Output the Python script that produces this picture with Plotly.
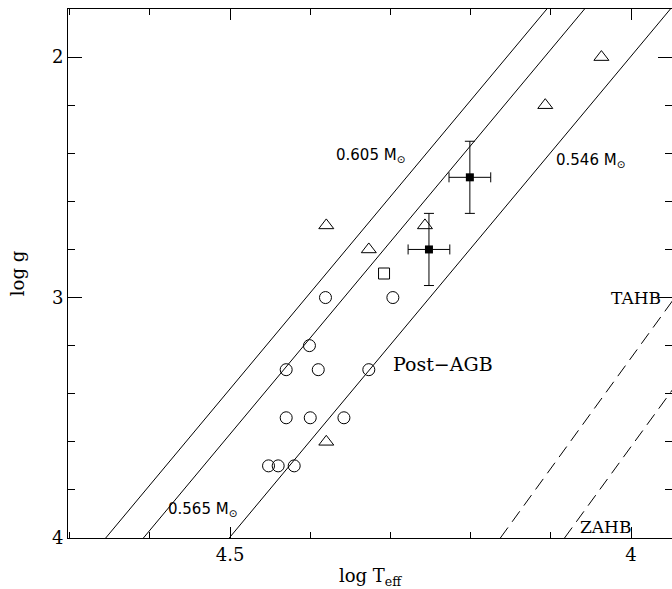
import plotly.graph_objects as go

# ---- data ----
circ_logT = [4.381, 4.297, 4.401, 4.430, 4.390, 4.327, 4.430, 4.400, 4.358, 4.452, 4.440, 4.420]
circ_logg = [3.0, 3.0, 3.2, 3.3, 3.3, 3.3, 3.5, 3.5, 3.5, 3.7, 3.7, 3.7]

tri_logT = [4.037, 4.107, 4.257, 4.327, 4.380, 4.380]
tri_logg = [2.0, 2.2, 2.7, 2.8, 2.7, 3.6]

sq_logT = [4.308]
sq_logg = [2.9]

fsq_logT = [4.201, 4.252]
fsq_logg = [2.5, 2.8]
fsq_errT = [0.026, 0.026]
fsq_errg = [0.15, 0.15]

track_0605_logT = [4.655, 4.105]
track_0605_logg = [4.0, 1.8]
track_0565_logT = [4.608, 4.058]
track_0565_logg = [4.0, 1.8]
track_0546_logT = [4.501, 3.951]
track_0546_logg = [4.0, 1.8]

tahb_logT = [4.163, 3.94]
tahb_logg = [4.0, 2.975]
zahb_logT = [4.083, 3.94]
zahb_logg = [4.0, 3.345]

x_ticks = [4.5, 4.0]
x_ticktext = ["4.5", "4"]
y_ticks = [2, 3, 4]
y_ticktext = ["2", "3", "4"]

SERIF = "DejaVu Serif"
SANS = "DejaVu Sans"

fig = go.Figure()

for xs, ys in [(track_0605_logT, track_0605_logg),
               (track_0565_logT, track_0565_logg),
               (track_0546_logT, track_0546_logg)]:
    fig.add_trace(go.Scatter(x=xs, y=ys, mode="lines",
                             line=dict(color="black", width=1), showlegend=False))

for xs, ys in [(tahb_logT, tahb_logg), (zahb_logT, zahb_logg)]:
    fig.add_trace(go.Scatter(x=xs, y=ys, mode="lines",
                             line=dict(color="black", width=1, dash="13px,7px"),
                             showlegend=False))

fig.add_trace(go.Scatter(x=circ_logT, y=circ_logg, mode="markers",
                         marker=dict(symbol="circle-open", size=12, color="black",
                                     line=dict(width=1)), showlegend=False))
fig.add_trace(go.Scatter(x=tri_logT, y=tri_logg, mode="markers",
                         marker=dict(symbol="triangle-up-open", size=13, color="black",
                                     line=dict(width=1)), showlegend=False))
fig.add_trace(go.Scatter(x=sq_logT, y=sq_logg, mode="markers",
                         marker=dict(symbol="square-open", size=11, color="black",
                                     line=dict(width=1)), showlegend=False))
fig.add_trace(go.Scatter(x=fsq_logT, y=fsq_logg, mode="markers",
                         marker=dict(symbol="square", size=8, color="black"),
                         error_x=dict(type="data", array=fsq_errT, color="black",
                                      thickness=1, width=5),
                         error_y=dict(type="data", array=fsq_errg, color="black",
                                      thickness=1, width=5),
                         showlegend=False))
# empty trace so the right-hand tick axis is drawn
fig.add_trace(go.Scatter(x=[], y=[], yaxis="y2", mode="markers",
                         showlegend=False, hoverinfo="skip"))

ann = [
    (4.370, 2.41, "0.605 M<sub>⊙</sub>", SANS, 15),
    (4.0957, 2.43, "0.546 M<sub>⊙</sub>", SANS, 15),
    (4.5795, 3.88, "0.565 M<sub>⊙</sub>", SANS, 15),
    (4.2988, 3.275, "Post−AGB", SERIF, 19),
    (4.028, 3.0, "TAHB", SERIF, 17),
    (4.066, 3.955, "ZAHB", SERIF, 17),
]
for x, y, t, f, s in ann:
    fig.add_annotation(x=x, y=y, xref="x", yref="y", text=t, showarrow=False,
                       xanchor="left", yanchor="middle",
                       font=dict(family=f, size=s, color="black"))

tickfont = dict(family=SERIF, size=18, color="black")

fig.update_xaxes(range=[4.702, 3.949], tickmode="array", tickvals=x_ticks,
                 ticktext=x_ticktext, ticklen=11,
                 showline=True, linecolor="black", linewidth=1, mirror="ticks",
                 ticks="inside", tickcolor="black", tickwidth=1,
                 showgrid=False, zeroline=False, tickfont=tickfont,
                 minor=dict(ticks="inside", ticklen=6, dtick=0.1, tick0=0,
                            tickcolor="black", tickwidth=1),
                 title=dict(text="log T<sub>eff</sub>", standoff=6,
                            font=dict(family=SERIF, size=18, color="black")))

fig.update_layout(
    yaxis=dict(range=[4.0, 1.8], tickmode="array", tickvals=y_ticks,
               ticktext=y_ticktext, ticklen=14,
               showline=True, linecolor="black", linewidth=1, mirror=False,
               ticks="inside", tickcolor="black", tickwidth=1,
               showgrid=False, zeroline=False, tickfont=tickfont,
               minor=dict(ticks="inside", ticklen=7, dtick=0.2, tick0=0,
                          tickcolor="black", tickwidth=1),
               title=dict(text="log g", standoff=22,
                          font=dict(family=SERIF, size=18, color="black"))),
    yaxis2=dict(overlaying="y", side="right", anchor="x",
                range=[4.0, 1.8], tickmode="array", tickvals=y_ticks,
                showticklabels=False, ticklen=14, showline=False,
                ticks="inside", tickcolor="black", tickwidth=1,
                showgrid=False, zeroline=False,
                minor=dict(ticks="inside", ticklen=7, dtick=0.2, tick0=0,
                           tickcolor="black", tickwidth=1)),
    width=672, height=589,
    margin=dict(l=68, r=0, t=9, b=51),
    paper_bgcolor="white", plot_bgcolor="white")

fig.write_html("out.html")
